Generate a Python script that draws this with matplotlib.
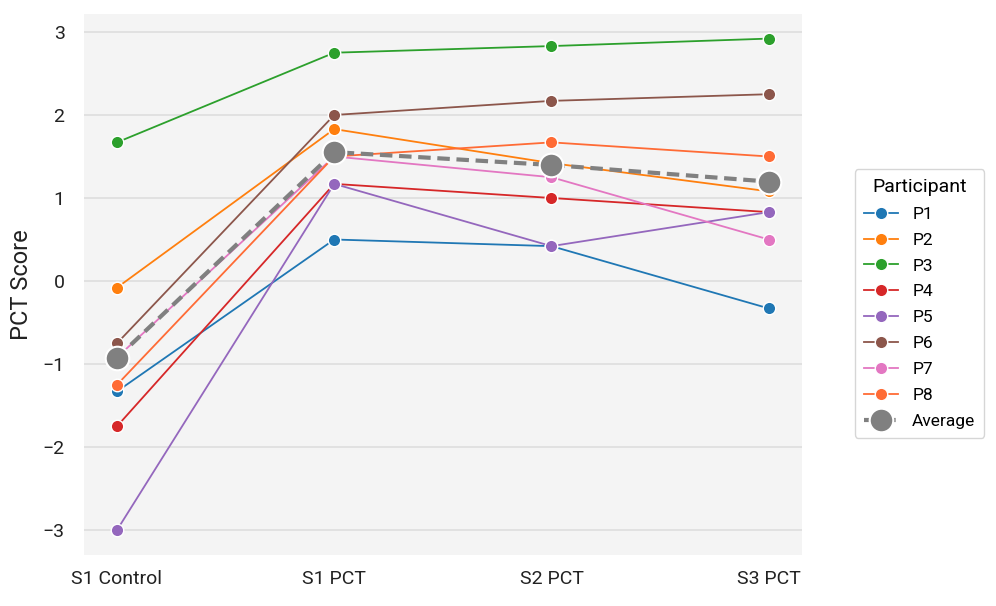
import matplotlib
matplotlib.use("Agg")
import matplotlib.pyplot as plt
import numpy as np

plt.rcParams['font.family'] = ['Roboto', 'DejaVu Sans']

sessions = ["S1 Control", "S1 PCT", "S2 PCT", "S3 PCT"]
participants = ["P1", "P2", "P3", "P4", "P5", "P6", "P7", "P8"]
P1 = [-1.33, 0.50, 0.42, -0.33]
P2 = [-0.08, 1.83, 1.42, 1.08]
P3 = [1.67, 2.75, 2.83, 2.92]
P4 = [-1.75, 1.17, 1.00, 0.83]
P5 = [-3.00, 1.17, 0.42, 0.83]
P6 = [-0.75, 2.00, 2.17, 2.25]
P7 = [-0.92, 1.50, 1.25, 0.50]
P8 = [-1.25, 1.50, 1.67, 1.50]
series = [P1, P2, P3, P4, P5, P6, P7, P8]
colors = ["#1f77b4", "#ff7f0e", "#2ca02c", "#d62728", "#9467bd",
          "#8c564b", "#e377c2", "#ff6b35"]
average = np.mean(np.array(series), axis=0)

fig = plt.figure(figsize=(9.96, 6.06), dpi=100)
ax = fig.add_axes([0.0843, 0.0842, 0.7207, 0.8928])
ax.set_facecolor("#f4f4f4")
for s in ax.spines.values():
    s.set_visible(False)
ax.grid(axis='y', color='#e0e0e0', linewidth=1.3)
ax.set_axisbelow(True)

x = np.arange(len(sessions))
for name, vals, c in zip(participants, series, colors):
    ax.plot(x, vals, '-o', color=c, lw=1.3, ms=9, mec='white', mew=1.0,
            label=name, zorder=3)
ax.plot(x, average, '--o', color='#808080', lw=3, ms=17, mec='white', mew=1.5,
        dashes=(3, 1.6), label='Average', zorder=4)

ax.set_xticks(x)
ax.set_xticklabels(sessions, fontsize=14, color='#222222')
ax.set_yticks([-3, -2, -1, 0, 1, 2, 3])
ax.tick_params(axis='y', labelsize=14, colors='#222222', length=0, pad=14)
ax.tick_params(axis='x', length=0, pad=11)
ax.set_xlim(-0.152, 3.152)
ax.set_ylim(-3.3, 3.217)
ax.set_ylabel("PCT Score", fontsize=17, color='#222222', labelpad=7)

leg = ax.legend(title="Participant", loc='center left',
                bbox_to_anchor=(1.062, 0.465), fontsize=12.5, title_fontsize=14,
                frameon=True, edgecolor='#cccccc', fancybox=True,
                handlelength=2.0, labelspacing=0.62, borderpad=0.5)
leg.get_frame().set_linewidth(1.0)

fig.savefig("out.png", dpi=100)
